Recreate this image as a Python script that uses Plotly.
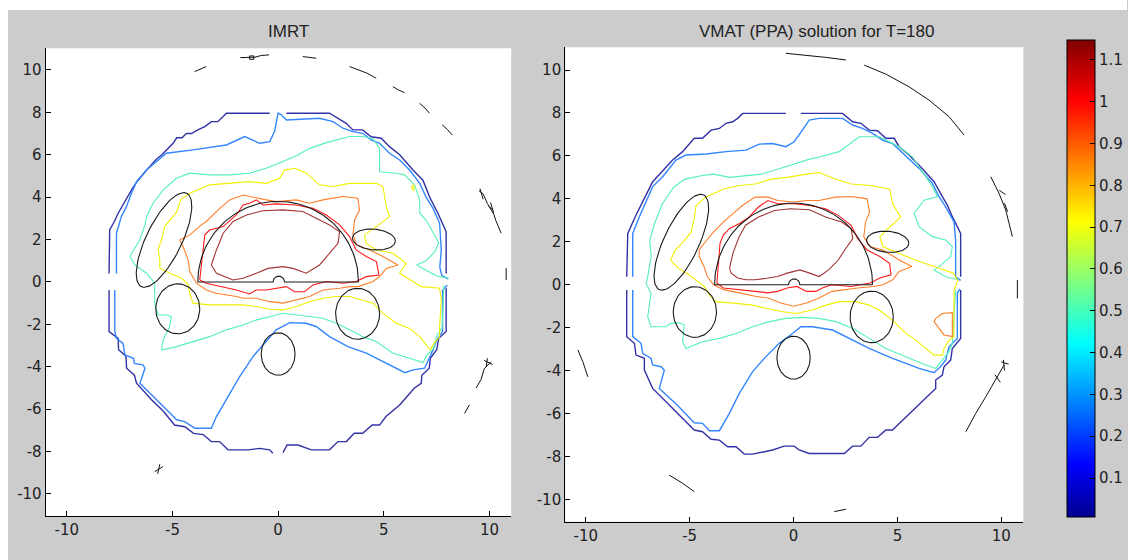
import numpy as np
import plotly.graph_objects as go

# ---------------- data ----------------
AX_TICKS = [-10, -5, 0, 5, 10]
AX_TICKTEXT = ["-10", "-5", "0", "5", "10"]
AY_TICKS = [-10, -8, -6, -4, -2, 0, 2, 4, 6, 8, 10]
AY_TICKTEXT = ["-10", "-8", "-6", "-4", "-2", "0", "2", "4", "6", "8", "10"]
CB_TICKS = [0.1, 0.2, 0.3, 0.4, 0.5, 0.6, 0.7, 0.8, 0.9, 1.0, 1.1]
CB_TICKTEXT = ["0.1", "0.2", "0.3", "0.4", "0.5", "0.6", "0.7", "0.8", "0.9", "1", "1.1"]
DOSE_MIN, DOSE_MAX = 0.0075, 1.148
TITLES = ["IMRT", "VMAT (PPA) solution for T=180"]

# isodose levels and their line colours
LEVELS = [0.1, 0.3, 0.5, 0.7, 0.9, 1.0, 1.1]
LEVEL_COLORS = ["#3232a6", "#3386ff", "#55f2b4", "#f0f000", "#ff7f2a", "#ff1a1a", "#a33434"]

# ---- IMRT isodose lines (segments of x,y points) ----
IMRT_010 = [
    [(-0.4, 7.96), (-2.45, 7.96), (-2.65, 7.75), (-2.85, 7.56), (-3.16, 7.56), (-3.47, 7.33), (-3.8, 7.17),
     (-4.1, 7.0), (-4.34, 7.0), (-4.55, 6.8), (-4.8, 6.8), (-4.97, 6.54), (-5.5, 6.0), (-5.75, 5.8),
     (-6.2, 5.3), (-6.7, 4.7), (-6.9, 4.4), (-7.13, 4.0), (-7.35, 3.6), (-7.57, 3.24), (-7.75, 2.85),
     (-7.97, 2.45), (-8.0, 0.4)],
    [(-8.0, -0.38), (-8.0, -2.34), (-7.57, -2.66), (-7.55, -3.2), (-7.2, -3.5), (-7.17, -4.07), (-6.8, -4.4),
     (-6.7, -4.78), (-5.98, -5.57), (-5.43, -6.1), (-4.9, -6.75), (-4.42, -6.83), (-4.0, -7.14), (-3.55, -7.2),
     (-3.16, -7.53), (-2.77, -7.53), (-2.37, -7.92), (-1.42, -7.92), (-0.87, -7.85), (-0.4, -7.92), (-0.25, -8.08)],
    [(0.23, -8.05), (0.42, -7.69), (0.94, -7.69), (1.57, -7.92), (2.43, -7.92), (2.83, -7.53), (3.23, -7.53),
     (3.6, -7.14), (4.0, -7.14), (4.45, -6.75), (4.8, -6.75), (5.1, -6.35), (5.75, -5.8), (6.45, -5.0),
     (6.77, -4.78), (6.8, -4.4), (7.15, -4.07), (7.2, -3.6), (7.5, -3.2), (7.6, -2.66), (7.95, -2.34), (7.95, -0.3)],
    [(7.95, 0.4), (7.95, 2.37), (7.56, 3.24), (7.4, 3.55), (7.17, 4.0), (6.85, 4.8), (6.38, 5.28), (5.75, 6.0),
     (5.27, 6.38), (4.88, 6.78), (4.4, 6.85), (4.0, 7.17), (3.54, 7.17), (3.22, 7.48), (2.6, 7.88), (2.43, 7.96),
     (0.39, 7.96)],
]
IMRT_030 = [
    [(-7.65, 0.4), (-7.65, 2.3), (-7.42, 3.08), (-7.18, 3.55), (-6.94, 4.18), (-6.7, 4.73), (-6.23, 5.28),
     (-5.68, 5.75), (-5.29, 6.07), (-4.03, 6.23), (-2.45, 6.46), (-1.58, 6.86), (-0.87, 6.54), (-0.4, 6.62),
     (-0.17, 7.09), (0.0, 7.96), (0.15, 7.88), (0.39, 7.64), (1.96, 7.72), (2.6, 7.56), (3.07, 7.25),
     (3.54, 7.09), (4.0, 7.01), (4.4, 6.7), (4.8, 6.54), (5.27, 6.07), (5.75, 5.75), (6.22, 5.28), (6.7, 4.65),
     (7.0, 4.0), (7.33, 3.47), (7.64, 2.77), (7.72, 1.5), (7.65, 0.7), (7.75, 0.3), (8.05, 0.15)],
    [(8.0, -0.15), (7.78, -0.4), (7.78, -2.34), (7.5, -2.74), (7.33, -3.2), (7.1, -3.68), (6.93, -4.07),
     (6.38, -4.15), (6.0, -4.28), (4.17, -3.36), (3.3, -3.05), (2.43, -2.58), (1.8, -2.1), (1.33, -1.95),
     (0.55, -1.92), (-0.09, -2.26), (-0.56, -2.81), (-1.19, -3.52), (-1.82, -4.47), (-2.45, -5.57),
     (-2.92, -6.35), (-3.16, -6.9), (-3.94, -6.9), (-4.42, -6.59), (-4.8, -6.5), (-5.43, -5.88), (-5.9, -5.4),
     (-6.54, -4.78), (-6.3, -4.07), (-6.4, -3.91), (-6.8, -3.84), (-6.85, -3.6), (-7.25, -3.44), (-7.34, -2.9),
     (-7.65, -2.66), (-7.73, -2.3), (-7.73, -0.38)],
]
IMRT_050 = [
    [(-7.02, 1.2), (-6.55, 1.98), (-6.3, 2.69), (-6.23, 3.08), (-5.92, 3.71), (-5.44, 4.34), (-4.81, 4.89),
     (-4.18, 5.13), (-3.24, 5.05), (-2.29, 5.05), (-1.35, 5.13), (-0.56, 5.36), (0.23, 5.68), (0.86, 5.95),
     (1.5, 6.3), (2.28, 6.57), (3.38, 6.86), (4.0, 6.86), (4.5, 6.75), (4.8, 6.3), (4.8, 5.2), (5.6, 5.13),
     (5.98, 5.05), (6.45, 4.58), (6.7, 3.87), (6.7, 3.24), (7.0, 2.92), (7.33, 2.3), (7.6, 1.85), (7.4, 1.4),
     (7.0, 1.0), (6.55, 0.8), (7.0, 0.55), (7.5, 0.28), (8.07, 0.17)],
    [(7.84, -0.14), (7.76, -2.18), (7.52, -2.5), (7.36, -3.13), (7.05, -3.44), (6.85, -3.8), (6.22, -3.6),
     (5.43, -3.36), (4.64, -2.81), (4.01, -2.58), (3.38, -2.26), (2.75, -1.95), (2.12, -1.71), (1.49, -1.64),
     (0.86, -1.56), (0.23, -1.48), (-0.4, -1.64), (-1.03, -1.79), (-1.66, -2.03), (-2.45, -2.26),
     (-3.24, -2.58), (-4.03, -2.81), (-4.81, -3.05), (-5.52, -3.21), (-5.44, -2.74), (-5.13, -2.1),
     (-5.05, -1.64), (-5.29, -1.56), (-5.68, -1.56), (-5.84, -1.0), (-5.84, -0.06), (-6.23, 0.41),
     (-6.78, 0.8), (-7.02, 1.2)],
]
IMRT_070 = [
    [(-5.6, 1.04), (-5.68, 1.51), (-5.52, 1.98), (-5.37, 2.61), (-5.05, 3.0), (-4.8, 3.3), (-4.6, 3.9),
     (-4.18, 4.18), (-3.24, 4.58), (-2.29, 4.65), (-1.35, 4.73), (-0.56, 4.65), (0.07, 4.89), (0.31, 5.28),
     (0.78, 5.36), (1.33, 5.13), (1.96, 4.58), (2.59, 4.5), (3.38, 4.65), (4.64, 4.65), (4.96, 4.5),
     (5.12, 3.55), (5.28, 3.08), (4.64, 2.61), (4.09, 2.22), (4.17, 1.82), (4.64, 1.51), (5.43, 1.35),
     (6.06, 0.88), (5.75, 0.41), (6.37, 0.02), (6.77, -0.22), (7.64, -0.3), (7.72, -0.85), (7.64, -2.1),
     (7.64, -2.6), (7.4, -2.85), (7.2, -3.2), (6.7, -2.58), (6.22, -2.19), (5.59, -1.95), (4.96, -1.48),
     (4.49, -1.0), (4.01, -0.85), (3.38, -0.69), (2.75, -0.69), (2.12, -0.77), (1.49, -0.93), (0.86, -1.16),
     (0.23, -1.32), (-0.4, -1.29), (-1.03, -1.16), (-1.66, -1.08), (-2.45, -1.08), (-3.24, -1.08),
     (-4.03, -1.0), (-4.18, -0.55), (-4.26, -0.1), (-4.6, 0.2), (-5.1, 0.4), (-5.6, 0.65), (-5.6, 1.04)],
    [(6.3, 4.5), (6.42, 4.3), (6.42, 4.58), (6.3, 4.5)],
]
IMRT_090 = [
    [(-4.66, 1.98), (-4.18, 2.22), (-3.63, 2.69), (-3.4, 2.85), (-2.76, 3.47), (-2.29, 3.87), (-1.66, 4.1),
     (-1.03, 3.95), (-0.56, 3.87), (-0.09, 3.79), (0.86, 3.87), (1.49, 3.71), (2.12, 3.87), (3.06, 4.03),
     (3.77, 3.95), (3.85, 3.4), (3.62, 2.92), (3.54, 2.3), (3.69, 1.75), (4.33, 1.51), (4.96, 1.2),
     (5.67, 0.8), (5.12, 0.64), (4.8, 0.25), (4.49, 0.02), (3.78, -0.22), (3.38, -0.22), (2.91, -0.3),
     (2.12, -0.38), (1.49, -0.69), (0.86, -0.85), (0.23, -1.0), (-0.4, -0.93), (-1.03, -0.77), (-1.66, -0.77),
     (-1.98, -0.69), (-2.92, -0.53), (-3.4, -0.38), (-3.87, -0.06), (-4.18, 0.49), (-4.26, 1.04),
     (-4.5, 1.67), (-4.66, 1.98)],
]
IMRT_100 = [
    [(-3.71, 0.09), (-3.63, 0.88), (-3.47, 2.22), (-3.24, 2.45), (-2.6, 2.61), (-1.98, 3.16), (-1.66, 3.63),
     (-1.35, 3.71), (-1.03, 3.87), (-0.72, 3.63), (-0.09, 3.68), (0.86, 3.63), (1.65, 3.47), (2.28, 3.16),
     (2.91, 2.69), (3.38, 2.14), (3.69, 1.51), (4.17, 1.2), (4.65, 0.96), (4.77, 0.33), (4.17, 0.25),
     (3.69, 0.02), (3.06, -0.06), (2.28, 0.02), (1.65, -0.14), (1.25, -0.46), (0.78, -0.46), (0.39, -0.22),
     (-0.09, -0.3), (-0.56, -0.38), (-1.03, -0.38), (-1.35, -0.57), (-1.98, -0.38), (-2.76, -0.22),
     (-3.4, -0.06), (-3.71, 0.09)],
]
IMRT_110 = [
    [(-3.16, 0.8), (-2.92, 1.51), (-2.6, 2.3), (-2.13, 2.85), (-1.5, 3.16), (-0.72, 3.36), (0.23, 3.4),
     (1.17, 3.32), (1.8, 3.0), (2.43, 2.69), (2.91, 2.37), (2.83, 1.82), (2.43, 1.35), (1.96, 0.8),
     (1.33, 0.41), (0.7, 0.64), (0.23, 0.72), (-0.48, 0.64), (-1.03, 0.41), (-1.66, 0.17), (-2.13, 0.09),
     (-2.92, 0.41), (-3.16, 0.8)],
]

# ---- VMAT isodose lines ----
VMAT_010 = [
    [(-0.37, 7.98), (-2.45, 7.98), (-2.69, 7.75), (-2.93, 7.59), (-3.25, 7.52), (-3.57, 7.28), (-3.97, 7.2),
     (-4.38, 6.82), (-4.78, 6.82), (-5.34, 6.2), (-5.82, 5.81), (-6.3, 5.3), (-6.78, 4.8), (-7.18, 4.02),
     (-7.58, 3.25), (-7.98, 2.39), (-8.03, 0.37)],
    [(-8.03, -0.25), (-8.03, -2.42), (-7.66, -2.73), (-7.58, -3.28), (-7.18, -3.43), (-7.18, -3.98),
     (-6.78, -4.83), (-5.8, -5.8), (-4.78, -6.77), (-4.38, -6.85), (-3.97, -7.2), (-3.57, -7.24),
     (-3.17, -7.55), (-2.77, -7.55), (-2.37, -7.89), (-1.97, -7.89), (-1.01, -7.7), (-0.45, -7.52),
     (0.03, -7.52), (0.27, -7.7), (0.75, -7.86), (2.44, -7.86), (2.84, -7.52), (3.24, -7.52), (3.64, -7.11),
     (4.04, -7.11), (4.44, -6.77), (4.76, -6.77), (5.8, -5.8), (6.84, -4.83), (6.84, -4.44), (7.16, -4.21),
     (7.24, -3.82), (7.56, -3.51), (7.64, -2.97), (8.04, -2.5), (8.04, -0.25)],
    [(8.04, 0.37), (8.04, 2.39), (7.64, 3.17), (7.4, 3.71), (7.16, 4.1), (6.76, 4.8), (6.2, 5.4),
     (5.56, 6.04), (5.08, 6.43), (4.84, 6.82), (4.44, 6.82), (4.04, 7.17), (3.64, 7.2), (3.24, 7.52),
     (2.84, 7.59), (2.44, 7.9), (2.36, 7.98), (0.35, 7.98)],
]
VMAT_030 = [
    [(-7.74, 0.37), (-7.74, 2.39), (-7.42, 3.17), (-7.02, 4.1), (-6.78, 4.57), (-6.3, 5.03), (-5.66, 5.81),
     (-5.18, 6.04), (-4.21, 6.09), (-3.25, 6.2), (-2.29, 6.27), (-1.65, 6.55), (-1.01, 6.58), (-0.37, 6.43),
     (0.03, 6.66), (0.43, 7.2), (0.75, 7.67), (1.23, 7.75), (2.36, 7.75), (2.84, 7.44), (3.32, 7.28),
     (3.8, 7.05), (4.28, 6.74), (4.76, 6.58), (5.4, 6.0), (6.04, 5.42), (6.68, 4.72), (7.0, 4.1),
     (7.32, 3.63), (7.72, 2.93), (7.8, 2.08), (7.8, 0.37), (8.04, 0.2)],
    [(8.0, -0.2), (7.88, -0.4), (7.88, -2.5), (7.48, -2.89), (7.32, -3.51), (7.04, -3.85), (6.76, -4.1),
     (6.04, -3.9), (5.4, -3.66), (4.76, -3.43), (3.64, -2.97), (2.68, -2.5), (1.88, -2.11), (0.91, -1.96),
     (0.35, -1.96), (-0.05, -2.27), (-0.69, -2.73), (-1.33, -3.35), (-1.97, -4.05), (-2.61, -5.06),
     (-3.09, -5.99), (-3.57, -6.8), (-4.05, -6.8), (-4.38, -6.46), (-4.78, -6.43), (-5.6, -5.6),
     (-6.46, -4.83), (-6.22, -3.98), (-6.38, -3.82), (-6.78, -3.74), (-6.86, -3.43), (-7.26, -3.2),
     (-7.34, -2.73), (-7.74, -2.42), (-7.74, -0.25)],
]
VMAT_050 = [
    [(-6.85, 1.31), (-6.92, 2.08), (-6.69, 2.85), (-6.31, 3.77), (-5.77, 4.54), (-5.23, 4.92), (-4.46, 5.08),
     (-3.85, 5.15), (-3.08, 5.0), (-2.31, 5.08), (-1.54, 5.15), (-0.77, 5.38), (0.0, 5.62), (0.77, 5.85),
     (1.23, 5.95), (2.2, 6.2), (3.16, 6.89), (4.12, 6.89), (4.44, 6.74), (5.08, 6.43), (5.72, 5.96),
     (6.04, 5.5), (6.68, 4.57), (6.92, 4.1), (6.28, 3.94), (5.8, 3.32), (6.04, 2.7), (6.68, 2.24),
     (7.32, 2.08), (7.64, 1.77), (7.56, 1.3), (7.0, 0.84), (6.76, 0.68), (7.32, 0.37), (7.96, 0.22)],
    [(7.8, -0.25), (7.64, -2.73), (7.48, -3.12), (7.16, -3.51), (6.84, -3.9), (6.36, -3.74), (5.24, -3.28),
     (4.44, -2.97), (3.64, -2.5), (2.84, -2.03), (2.04, -1.72), (1.23, -1.57), (0.43, -1.52), (-0.37, -1.57),
     (-1.17, -1.72), (-1.97, -1.96), (-2.77, -2.27), (-3.57, -2.5), (-4.38, -2.66), (-5.18, -2.97),
     (-5.34, -2.66), (-5.26, -1.88), (-5.5, -1.77), (-5.9, -1.8), (-6.14, -1.96), (-6.86, -1.96),
     (-7.02, -1.49), (-6.94, -1.02), (-6.86, -0.4), (-7.1, 0.06), (-7.02, 0.37), (-6.94, 0.84), (-6.85, 1.31)],
]
VMAT_070 = [
    [(-5.92, 1.15), (-5.69, 1.62), (-5.31, 2.0), (-4.92, 2.46), (-4.77, 3.15), (-4.69, 3.69), (-4.23, 4.08),
     (-3.38, 4.46), (-2.62, 4.62), (-1.85, 4.69), (-1.08, 4.92), (-0.31, 5.0), (0.62, 5.15), (1.23, 5.23),
     (2.0, 4.92), (2.77, 4.69), (3.69, 4.62), (4.62, 4.46), (4.77, 3.77), (5.15, 3.15), (4.62, 2.69),
     (4.15, 2.23), (4.31, 1.77), (5.08, 1.46), (5.85, 1.15), (6.77, 0.85), (7.69, 0.54), (7.9, 0.2),
     (7.72, -0.25), (7.72, -2.42), (7.48, -2.58), (7.24, -2.97), (7.16, -3.28), (6.76, -3.28), (6.44, -3.04),
     (5.88, -2.58), (5.4, -2.27), (4.76, -1.65), (4.12, -1.18), (3.64, -0.95), (3.0, -0.79), (2.2, -0.79),
     (1.55, -0.95), (0.91, -1.18), (0.11, -1.34), (-0.53, -1.26), (-1.33, -1.1), (-1.97, -0.95),
     (-2.77, -0.87), (-3.73, -0.79), (-4.05, -0.48), (-4.29, -0.09), (-4.92, 0.38), (-5.54, 0.77),
     (-5.92, 1.15)],
]
VMAT_090 = [
    [(-4.54, 1.62), (-4.31, 1.92), (-3.85, 2.46), (-3.38, 2.92), (-2.92, 3.31), (-2.46, 3.69), (-1.85, 4.08),
     (-1.23, 4.08), (-0.77, 3.92), (0.0, 3.85), (0.62, 3.92), (1.23, 3.92), (2.0, 4.08), (2.77, 4.11),
     (3.54, 4.0), (3.66, 3.38), (3.46, 2.92), (3.38, 2.23), (3.69, 1.77), (4.31, 1.62), (5.08, 1.15),
     (5.69, 0.85), (5.08, 0.62), (4.77, 0.23), (4.31, 0.0), (3.85, -0.08), (3.08, -0.15), (2.46, -0.23),
     (1.85, -0.31), (1.23, -0.62), (0.62, -0.85), (0.0, -1.0), (-0.62, -0.85), (-1.23, -0.62), (-1.85, -0.54),
     (-2.62, -0.38), (-3.38, -0.23), (-3.85, 0.0), (-4.15, 0.38), (-4.31, 0.85), (-4.54, 1.31), (-4.54, 1.62)],
    [(6.84, -1.57), (7.16, -1.34), (7.64, -1.3), (7.64, -2.42), (7.24, -2.34), (6.92, -1.94), (6.76, -1.72),
     (6.84, -1.57)],
]
VMAT_100 = [
    [(-3.69, 0.08), (-3.62, 1.15), (-3.54, 1.92), (-3.38, 2.31), (-3.08, 2.62), (-2.6, 2.85), (-2.15, 3.15),
     (-1.69, 3.62), (-1.23, 3.92), (-0.77, 3.77), (0.0, 3.77), (0.77, 3.69), (1.54, 3.54), (2.15, 3.23),
     (2.77, 2.77), (3.08, 2.15), (3.54, 1.62), (4.15, 1.31), (4.62, 1.0), (4.69, 0.46), (4.15, 0.31),
     (3.69, 0.08), (2.77, -0.08), (1.85, 0.0), (1.38, -0.15), (1.08, -0.31), (0.62, -0.31), (0.15, -0.08),
     (-0.31, -0.15), (-0.77, -0.31), (-1.23, -0.38), (-1.85, -0.31), (-2.62, -0.23), (-3.38, -0.15),
     (-3.69, 0.08)],
]
VMAT_110 = [
    [(-3.08, 0.77), (-2.92, 1.46), (-2.62, 2.23), (-2.31, 2.77), (-1.69, 3.15), (-0.92, 3.46), (-0.15, 3.54),
     (0.77, 3.49), (1.54, 3.15), (2.31, 2.92), (2.77, 2.62), (2.85, 2.15), (2.46, 1.62), (2.15, 1.15),
     (1.69, 0.69), (1.23, 0.38), (0.77, 0.54), (0.31, 0.69), (-0.31, 0.54), (-0.77, 0.38), (-1.3, 0.3),
     (-1.85, 0.23), (-2.31, 0.23), (-2.69, 0.31), (-3.0, 0.54), (-3.08, 0.77)],
]

# ---- beam-angle marks drawn outside the body ----
IMRT_MARKS = [
    [(-3.95, 9.92), (-3.4, 10.16)],
    [(-1.79, 10.58), (-1.1, 10.6), (-0.8, 10.68), (-0.43, 10.71)],
    [(-1.35, 10.5), (-1.15, 10.5), (-1.15, 10.66), (-1.35, 10.66), (-1.35, 10.5)],
    [(1.17, 10.63), (1.4, 10.6), (1.8, 10.55)],
    [(3.38, 10.16), (3.9, 9.95), (4.2, 9.85), (4.64, 9.61)],
    [(5.43, 9.21), (5.7, 9.05), (5.98, 8.93)],
    [(6.69, 8.43), (6.95, 8.2), (7.16, 7.96)],
    [(7.76, 7.41), (8.0, 7.2), (8.24, 6.93)],
    [(9.5, 4.3), (9.7, 4.15), (9.9, 3.7), (10.2, 3.2), (10.3, 2.9), (10.55, 2.3)],
    [(9.55, 4.4), (9.7, 3.9)], [(9.95, 3.6), (10.15, 3.4)], [(10.05, 3.75), (10.2, 3.25)],
    [(10.79, 0.65), (10.79, 0.09)],
    [(9.37, -5.0), (9.6, -4.6), (9.75, -4.1), (10.08, -3.76)],
    [(9.75, -3.7), (10.15, -3.9)], [(9.85, -4.0), (9.9, -3.6)],
    [(8.82, -6.2), (9.05, -5.8)],
    [(-5.84, -8.95), (-5.45, -8.71)],
    [(-5.7, -9.05), (-5.6, -8.6)],
]
VMAT_MARKS = [
    [(-0.37, 10.78), (0.59, 10.7), (1.55, 10.59), (2.52, 10.47)],
    [(3.4, 10.23), (4.44, 9.81), (5.56, 9.22), (6.52, 8.6), (7.48, 7.83), (8.21, 6.97)],
    [(9.49, 5.03), (9.89, 4.25), (10.21, 3.48), (10.53, 2.24)],
    [(9.9, 4.4), (10.2, 4.2)], [(10.15, 3.8), (10.3, 3.4)],
    [(10.77, 0.22), (10.77, -0.64)],
    [(10.13, -3.74), (9.73, -4.44), (9.25, -5.22), (8.77, -5.99), (8.29, -6.85)],
    [(10.0, -3.6), (10.35, -3.7)], [(10.1, -3.5), (10.15, -4.0)], [(9.7, -4.2), (9.95, -4.55)],
    [(-10.38, -3.04), (-10.14, -3.59), (-9.9, -4.29)],
    [(-5.98, -8.87), (-5.34, -9.25), (-4.78, -9.64)],
    [(1.96, -10.57), (2.52, -10.46)],
]

# ---- anatomical structures (same in both panels) ----
PTV_RADIUS = 3.8
PTV_BUMP = (0.03, 0.27)           # centre x, radius of the small notch on the flat edge
# ellipses: centre x, centre y, semi-axis a, semi-axis b, rotation (deg)
OAR_ELLIPSES = [
    (-5.4, 1.98, 2.45, 0.84, 64),
    (-4.75, -1.27, 1.04, 1.18, 0),
    (3.76, -1.5, 1.04, 1.2, 0),
    (0.0, -3.4, 0.8, 1.0, 0),
    (4.53, 2.0, 1.02, 0.49, -5),
]

# ---------------- helpers ----------------
def seg_xy(segments):
    xs, ys = [], []
    for seg in segments:
        for (x, y) in seg:
            xs.append(x)
            ys.append(y)
        xs.append(None)
        ys.append(None)
    return xs, ys


def structure_xy():
    xs, ys = [], []
    t = np.linspace(0, np.pi, 80)
    bx, br = PTV_BUMP
    tb = np.linspace(np.pi, 0, 20)
    px = list(PTV_RADIUS * np.cos(t)) + [bx - br] + list(bx + br * np.cos(tb)) + [PTV_RADIUS]
    py = list(PTV_RADIUS * np.sin(t)) + [0] + list(br * np.sin(tb)) + [0]
    xs += px + [None]
    ys += py + [None]
    tt = np.linspace(0, 2 * np.pi, 90)
    for cx, cy, a, b, ang in OAR_ELLIPSES:
        th = np.deg2rad(ang)
        ex = cx + a * np.cos(tt) * np.cos(th) - b * np.sin(tt) * np.sin(th)
        ey = cy + a * np.cos(tt) * np.sin(th) + b * np.sin(tt) * np.cos(th)
        xs += list(ex) + [None]
        ys += list(ey) + [None]
    return xs, ys


fig = go.Figure()

panels = [
    ("x", "y", [IMRT_010, IMRT_030, IMRT_050, IMRT_070, IMRT_090, IMRT_100, IMRT_110], IMRT_MARKS),
    ("x2", "y2", [VMAT_010, VMAT_030, VMAT_050, VMAT_070, VMAT_090, VMAT_100, VMAT_110], VMAT_MARKS),
]
for xa, ya, contours, marks in panels:
    for lev, col, segs in zip(LEVELS, LEVEL_COLORS, contours):
        x, y = seg_xy(segs)
        fig.add_trace(go.Scatter(x=x, y=y, mode="lines", xaxis=xa, yaxis=ya,
                                 line=dict(color=col, width=1.4 if lev < 0.4 else 1.1),
                                 hoverinfo="skip", showlegend=False))
    sx, sy = structure_xy()
    fig.add_trace(go.Scatter(x=sx, y=sy, mode="lines", xaxis=xa, yaxis=ya,
                             line=dict(color="#1a1a1a", width=1.1), hoverinfo="skip", showlegend=False))
    mx, my = seg_xy(marks)
    fig.add_trace(go.Scatter(x=mx, y=my, mode="lines", xaxis=xa, yaxis=ya,
                             line=dict(color="#111111", width=1.0), hoverinfo="skip", showlegend=False))

JET = [[0.0, "rgb(0,0,143)"], [0.11, "rgb(0,0,255)"], [0.365, "rgb(0,255,255)"],
       [0.62, "rgb(255,255,0)"], [0.873, "rgb(255,0,0)"], [1.0, "rgb(128,0,0)"]]

W, H = 1128, 560
# invisible carrier of the colour bar (placed outside the visible axis range)
fig.add_trace(go.Scatter(
    x=[50], y=[50], xaxis="x2", yaxis="y2", mode="markers", hoverinfo="skip", showlegend=False,
    marker=dict(size=1, color=[0.5], colorscale=JET, cmin=DOSE_MIN, cmax=DOSE_MAX, showscale=True,
                colorbar=dict(x=1067 / W, xanchor="left", y=(H - 516.7) / H, yanchor="bottom",
                              len=476.7, lenmode="pixels", thickness=28, thicknessmode="pixels",
                              xpad=0, ypad=0, outlinecolor="black", outlinewidth=1,
                              ticks="inside", ticklen=5, tickcolor="black",
                              tickvals=CB_TICKS, ticktext=CB_TICKTEXT,
                              tickfont=dict(family="DejaVu Sans", size=15, color="#222222")))))

axis_common = dict(showgrid=False, zeroline=False, showline=True, linecolor="black", linewidth=1,
                   mirror=False, ticks="inside", ticklen=5, tickcolor="black",
                   tickfont=dict(family="DejaVu Sans", size=15, color="#222222"))

fig.update_layout(
    width=W, height=H,
    margin=dict(l=0, r=0, t=0, b=0),
    paper_bgcolor="#cccccc", plot_bgcolor="white",
    showlegend=False,
    xaxis=dict(domain=[45.7 / W, 511.7 / W], range=[-11.0, 11.03], anchor="y",
               tickvals=AX_TICKS, ticktext=AX_TICKTEXT, **axis_common),
    yaxis=dict(domain=[(H - 516) / H, (H - 48.3) / H], range=[-11.04, 11.02], anchor="x",
               tickvals=AY_TICKS, ticktext=AY_TICKTEXT, **axis_common),
    xaxis2=dict(domain=[565.7 / W, 1024.3 / W], range=[-10.99, 11.06], anchor="y2",
                tickvals=AX_TICKS, ticktext=AX_TICKTEXT, **axis_common),
    yaxis2=dict(domain=[(H - 521.7) / H, (H - 47.3) / H], range=[-11.04, 11.06], anchor="x2",
                tickvals=AY_TICKS, ticktext=AY_TICKTEXT, **axis_common),
    shapes=[
        dict(type="rect", xref="paper", yref="paper", x0=0, x1=8 / W, y0=0, y1=1,
             fillcolor="white", line=dict(width=0), layer="below"),
        dict(type="rect", xref="paper", yref="paper", x0=0, x1=1, y0=(H - 10) / H, y1=1,
             fillcolor="white", line=dict(width=0), layer="below"),
    ],
    annotations=[
        dict(text=TITLES[0], xref="paper", yref="paper", x=289 / W, y=(H - 31) / H,
             xanchor="center", yanchor="middle", showarrow=False,
             font=dict(family="Liberation Sans", size=17, color="#222222")),
        dict(text=TITLES[1], xref="paper", yref="paper", x=817 / W, y=(H - 31) / H,
             xanchor="center", yanchor="middle", showarrow=False,
             font=dict(family="Liberation Sans", size=17, color="#222222")),
    ],
)

fig.write_html("out.html",
               config={"displayModeBar": False},
               post_script="document.body.style.margin='0';document.body.style.overflow='hidden';")
